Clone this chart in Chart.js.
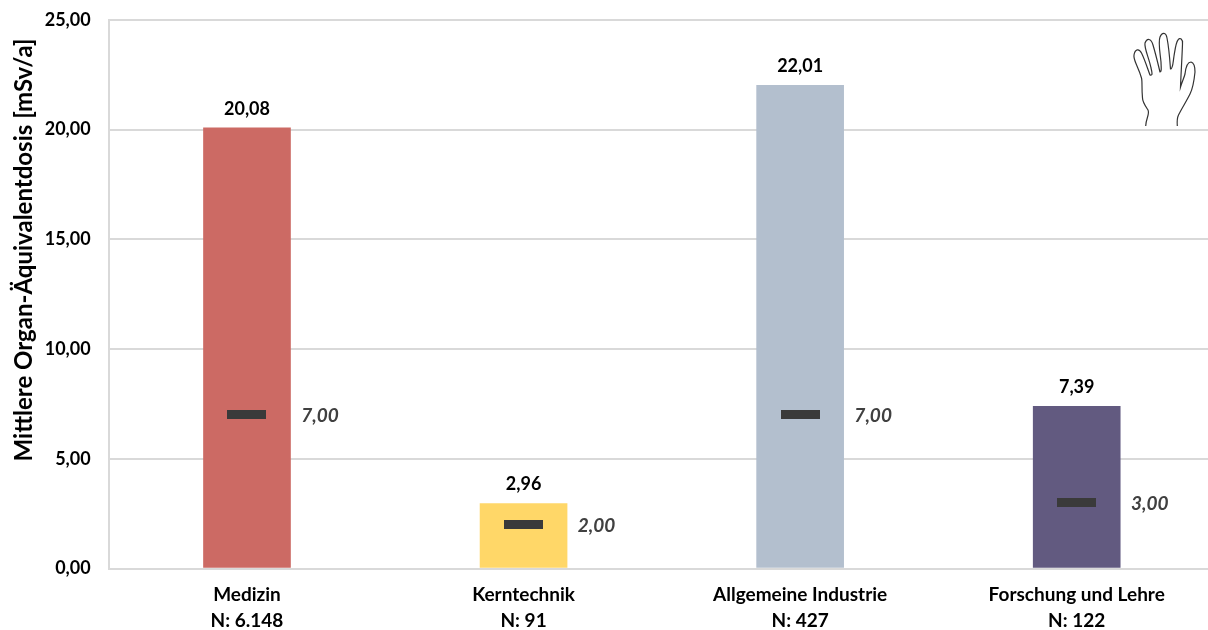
<!DOCTYPE html>
<html lang="de">
<head>
<meta charset="utf-8">
<title>Mittlere Organ-Äquivalentdosis</title>
<script src="https://cdn.jsdelivr.net/npm/chart.js@4/dist/chart.umd.min.js"></script>
<style>
  html, body { margin: 0; padding: 0; background: #fff; overflow: hidden; width: 1208px; height: 630px; }
  canvas { display: block; position: absolute; left: 0; top: -9px; }
</style>
</head>
<body>
<canvas id="chart" width="1216" height="639"></canvas>
<script>
const categories = [["Medizin", "N: 6.148"], ["Kerntechnik", "N: 91"], ["Allgemeine Industrie", "N: 427"], ["Forschung und Lehre", "N: 122"]];
const meanDose = [20.08, 2.96, 22.01, 7.39];
const medianDose = [7, 2, 7, 3];
const barColors = ["#CC6A64", "#FFD768", "#B3BFCE", "#625A80"];
const yMax = 25;
const yStep = 5;
const yTitle = "Mittlere Organ-Äquivalentdosis [mSv/a]";

const FONT = "Lato, Carlito, sans-serif";
const deNumber = v => v.toFixed(2).replace(".", ",");

// Wide dash used as the point style of the median series
const medianDash = document.createElement("canvas");
medianDash.width = 39;
medianDash.height = 9;
const dashCtx = medianDash.getContext("2d");
dashCtx.fillStyle = "#3A3A3A";
dashCtx.fillRect(0, 0, 39, 9);

// Hand pictogram outline, relative to its own origin
const handPath = new Path2D(
  "M45.7 116 C46 108 50 104 48 100 C44 94 42.5 92 42.5 88 C41.5 78 42.5 72 41.5 68 " +
  "C38 56 33 50 34 45 C35 39 39 38 41.5 43 C45 50 48 60 50 65 C53 66 52 62 51 58 " +
  "C49 48 44 38 45 33 C47 28 51 28 53 35 C56 45 59 58 60 62 C62 62 61 56 61 52 " +
  "C60 42 58 32 60 27 C62 22 66 22 67 28 C69 38 70 52 70.5 59 C73 59 73 52 74 46 " +
  "C75 40 76 32 78 30 C80 27 83 29 82.5 34 C82 48 81 64 80.5 77 C82 72 84 68 85 64 " +
  "C86 55 88 52 91 52 C95 53 95 58 95 62 C94 72 92 80 90 84 C86 92 82 98 78.5 105 C77 108 77 112 77.3 116"
);

const annotations = {
  id: "annotations",
  afterDatasetsDraw(chart) {
    const { ctx } = chart;
    const bars = chart.getDatasetMeta(1).data;
    const ticks = chart.getDatasetMeta(0).data;
    ctx.save();
    ctx.textBaseline = "middle";
    ctx.textAlign = "center";
    ctx.fillStyle = "#000";
    ctx.font = "bold 18px " + FONT;
    bars.forEach((bar, i) => ctx.fillText(deNumber(meanDose[i]), bar.x, bar.y - 19));
    ctx.fillStyle = "#404040";
    ctx.font = "italic bold 19px " + FONT;
    ticks.forEach((pt, i) => ctx.fillText(deNumber(medianDose[i]), pt.x + 73, pt.y + 1));
    // Axis title sits above the axis midpoint
    ctx.save();
    ctx.translate(24, 259);
    ctx.rotate(-Math.PI / 2);
    ctx.fillStyle = "#000";
    ctx.font = "bold 24px " + FONT;
    ctx.fillText(yTitle, 0, 0);
    ctx.restore();
    // Hand pictogram marking the body part
    ctx.translate(1100, 19);
    ctx.strokeStyle = "#333";
    ctx.lineWidth = 1.2;
    ctx.stroke(handPath);
    ctx.restore();
  }
};

new Chart(document.getElementById("chart"), {
  data: {
    labels: categories,
    datasets: [
      {
        type: "line",
        label: "Median",
        data: medianDose,
        showLine: false,
        pointStyle: medianDash,
        pointRadius: 1,
        pointHoverRadius: 1,
        pointBorderWidth: 0,
        order: 0
      },
      {
        type: "bar",
        label: "Mittelwert",
        data: meanDose,
        backgroundColor: barColors,
        barThickness: 87,
        order: 1
      }
    ]
  },
  options: {
    responsive: false,
    animation: false,
    events: [],
    layout: { autoPadding: false, padding: { top: 28, right: 1, bottom: 0, left: 0 } },
    plugins: { legend: { display: false }, tooltip: { enabled: false } },
    scales: {
      x: {
        afterFit(scale) { scale.height = 61.5; },
        grid: { display: false, drawTicks: false },
        border: { display: true, color: "#D9D9D9", width: 2 },
        ticks: {
          color: "#000",
          padding: 13,
          maxRotation: 0,
          autoSkip: false,
          font: { family: FONT, size: 19, weight: "bold", lineHeight: 1.37 }
        }
      },
      y: {
        min: 0,
        max: yMax,
        afterFit(scale) { scale.width = 108.7; },
        grid: { color: "#D9D9D9", lineWidth: 2, drawTicks: false },
        border: { display: true, color: "#D9D9D9", width: 2 },
        ticks: {
          stepSize: yStep,
          color: "#000",
          padding: 18,
          callback: v => deNumber(v),
          font: { family: FONT, size: 18, weight: "bold" }
        }
      }
    }
  },
  plugins: [annotations]
});
</script>
</body>
</html>
